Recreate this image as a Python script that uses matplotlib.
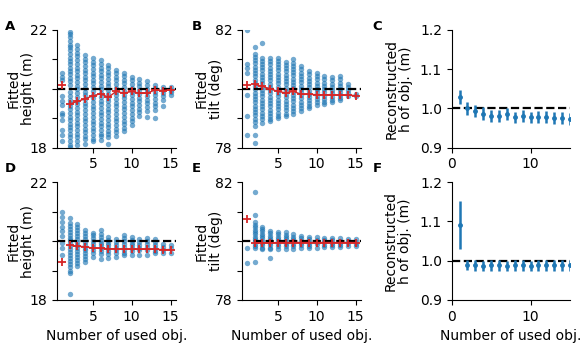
import matplotlib
matplotlib.use("Agg")
import matplotlib.pyplot as plt

plt.rcParams['font.family'] = ['DejaVu Sans']
plt.rcParams['font.size'] = 10

n_used = list(range(1, 16))

# ---------- Panel A: fitted height (scatter columns per number of used objects)
A_cols = [
    [20.53, 20.40, 20.28, 19.74, 19.57, 19.46, 19.18, 19.12, 18.95, 18.61, 18.44, 18.21],
    [21.94, 21.85, 21.75, 21.62, 21.50, 21.40, 21.30, 21.18, 21.05, 20.95, 20.85, 20.72, 20.60, 20.50,
     20.38, 20.25, 20.12, 19.88, 19.75, 19.62, 19.50, 19.40, 19.30, 19.18, 19.05, 18.95, 18.82, 18.70,
     18.60, 18.48, 18.35, 18.22, 18.10, 18.02],
    [21.47, 21.35, 21.22, 21.10, 20.98, 20.85, 20.72, 20.60, 20.48, 20.35, 20.22, 20.10, 19.98, 19.85,
     19.72, 19.60, 19.48, 19.35, 19.22, 19.10, 18.98, 18.85, 18.72, 18.60, 18.48, 18.35, 18.22, 18.08],
    [21.15, 21.02, 20.90, 20.78, 20.65, 20.52, 20.40, 20.28, 20.15, 20.02, 19.90, 19.78, 19.65, 19.52,
     19.40, 19.28, 19.15, 19.02, 18.90, 18.78, 18.65, 18.52, 18.40, 18.28, 18.14],
    [21.04, 20.92, 20.80, 20.68, 20.55, 20.42, 20.30, 20.18, 20.05, 19.92, 19.80, 19.68, 19.55, 19.42,
     19.30, 19.18, 19.05, 18.92, 18.80, 18.68, 18.55, 18.42, 18.30, 18.21],
    [20.98, 20.85, 20.72, 20.60, 20.48, 20.35, 20.22, 20.10, 19.98, 19.85, 19.72, 19.60, 19.48, 19.35,
     19.22, 19.10, 18.98, 18.85, 18.72, 18.60, 18.48, 18.38, 18.27],
    [20.81, 20.70, 20.58, 20.45, 20.32, 20.20, 20.08, 19.95, 19.82, 19.70, 19.58, 19.45, 19.32, 19.20,
     19.08, 18.95, 18.82, 18.70, 18.58, 18.45, 18.35, 18.12],
    [20.64, 20.52, 20.40, 20.28, 20.15, 20.02, 19.90, 19.78, 19.65, 19.52, 19.40, 19.28, 19.15, 19.02,
     18.90, 18.78, 18.65, 18.52, 18.38],
    [20.55, 20.43, 20.30, 20.18, 20.05, 19.92, 19.80, 19.68, 19.55, 19.42, 19.30, 19.18, 19.05, 18.92,
     18.80, 18.68, 18.55],
    [20.40, 20.28, 20.15, 20.02, 19.90, 19.78, 19.65, 19.52, 19.40, 19.28, 19.15, 19.02, 18.90, 18.78],
    [20.33, 20.20, 20.08, 19.95, 19.82, 19.70, 19.58, 19.45, 19.32, 19.20, 19.06],
    [20.25, 20.12, 20.00, 19.88, 19.75, 19.62, 19.50, 19.38, 19.25, 19.04],
    [20.14, 20.02, 19.90, 19.78, 19.65, 19.52, 19.40, 19.28, 19.00],
    [20.06, 19.95, 19.85, 19.75, 19.62, 19.42],
    [20.06, 19.96, 19.88, 19.80],
]
A_red = [20.14, 19.48, 19.57, 19.66, 19.76, 19.83, 19.71, 19.91, 19.85, 19.91, 19.85, 19.85, 19.96, 19.94, 19.97]

# ---------- Panel B: fitted tilt
B_cols = [
    [81.99, 80.83, 80.70, 80.54, 79.78, 79.09, 78.43],
    [81.42, 81.19, 81.08, 80.97, 80.86, 80.75, 80.64, 80.53, 80.42, 80.31, 80.20, 80.09, 79.98, 79.87,
     79.76, 79.65, 79.54, 79.43, 79.32, 79.21, 79.10, 78.99, 78.88, 78.72, 78.43, 78.15],
    [81.55, 81.06, 80.95, 80.84, 80.73, 80.62, 80.51, 80.40, 80.29, 80.18, 80.07, 79.96, 79.85, 79.74,
     79.63, 79.52, 79.41, 79.30, 79.19, 79.08, 78.97, 78.83],
    [81.05, 80.94, 80.83, 80.72, 80.61, 80.50, 80.39, 80.28, 80.17, 80.06, 79.95, 79.84, 79.73, 79.62,
     79.51, 79.40, 79.29, 79.18, 79.07, 78.96, 78.89],
    [81.06, 80.95, 80.84, 80.73, 80.62, 80.51, 80.40, 80.29, 80.18, 80.07, 79.96, 79.85, 79.74, 79.63,
     79.52, 79.41, 79.30, 79.19, 79.08, 79.00],
    [80.92, 80.81, 80.70, 80.59, 80.48, 80.37, 80.26, 80.15, 80.04, 79.93, 79.82, 79.71, 79.60, 79.49,
     79.38, 79.27, 79.16, 79.06],
    [81.00, 80.89, 80.78, 80.67, 80.56, 80.45, 80.34, 80.23, 80.12, 80.01, 79.90, 79.79, 79.68, 79.57,
     79.46, 79.35, 79.24, 79.14],
    [80.77, 80.66, 80.55, 80.44, 80.33, 80.22, 80.11, 80.00, 79.89, 79.78, 79.67, 79.56, 79.45, 79.35, 79.25],
    [80.60, 80.49, 80.38, 80.27, 80.16, 80.05, 79.94, 79.83, 79.72, 79.61, 79.50, 79.42, 79.35],
    [80.54, 80.43, 80.32, 80.21, 80.10, 79.99, 79.88, 79.77, 79.66, 79.56, 79.46],
    [80.43, 80.32, 80.21, 80.10, 79.99, 79.88, 79.77, 79.66, 79.56, 79.48],
    [80.39, 80.28, 80.17, 80.06, 79.95, 79.84, 79.73, 79.63, 79.55],
    [80.43, 80.32, 80.21, 80.10, 79.99, 79.88, 79.78, 79.70, 79.63],
    [80.17, 80.06, 79.95, 79.84, 79.74],
    [79.82, 79.74],
]
B_red = [80.13, 80.15, 80.08, 80.00, 79.91, 79.86, 79.91, 79.81, 79.81, 79.80, 79.80, 79.79, 79.78, 79.78, 79.77]

# ---------- Panel C: reconstructed object height
C_mean = [1.029, 1.000, 0.993, 0.987, 0.981, 0.981, 0.985, 0.977, 0.981, 0.977, 0.978, 0.978, 0.975, 0.975, 0.973]
C_err = [0.017, 0.017, 0.016, 0.016, 0.015, 0.015, 0.015, 0.015, 0.015, 0.015, 0.015, 0.015, 0.015, 0.015, 0.015]

# ---------- Panel D: fitted height
D_cols = [
    [20.99, 20.80, 20.63, 20.49, 20.34, 20.17, 19.95, 19.77, 19.54],
    [20.78, 20.62, 20.52, 20.42, 20.32, 20.22, 20.12, 20.02, 19.92, 19.82, 19.72, 19.62, 19.52, 19.42,
     19.32, 19.22, 19.12, 19.00, 18.90, 18.20],
    [20.57, 20.47, 20.37, 20.27, 20.17, 20.07, 19.97, 19.87, 19.77, 19.67, 19.57, 19.47, 19.37, 19.27, 19.14],
    [20.38, 20.28, 20.18, 20.08, 19.98, 19.88, 19.78, 19.68, 19.58, 19.48, 19.38, 19.28],
    [20.29, 20.19, 20.09, 19.99, 19.89, 19.79, 19.69, 19.59, 19.47],
    [20.38, 20.25, 20.15, 20.05, 19.95, 19.85, 19.75, 19.65, 19.55, 19.40],
    [20.15, 20.05, 19.95, 19.85, 19.75, 19.65, 19.55, 19.43],
    [20.08, 19.98, 19.88, 19.78, 19.68, 19.58, 19.47],
    [20.21, 20.11, 20.01, 19.91, 19.81, 19.71, 19.61, 19.51],
    [20.15, 20.05, 19.95, 19.85, 19.75, 19.65, 19.51],
    [20.08, 19.98, 19.88, 19.78, 19.68, 19.54],
    [20.10, 20.00, 19.90, 19.80, 19.70, 19.54],
    [20.06, 19.96, 19.86, 19.76, 19.66, 19.58],
    [19.89, 19.79, 19.69, 19.58],
    [19.85, 19.75, 19.60],
]
D_red = [19.29, 19.86, 19.82, 19.81, 19.76, 19.75, 19.74, 19.73, 19.73, 19.72, 19.72, 19.72, 19.72, 19.71, 19.71]

# ---------- Panel E: fitted tilt
E_cols = [
    [79.77, 79.26],
    [81.68, 80.89, 80.63, 80.55, 80.47, 80.39, 80.31, 80.23, 80.15, 80.07, 79.99, 79.91, 79.83, 79.75, 79.30],
    [80.49, 80.41, 80.33, 80.25, 80.17, 80.09, 80.01, 79.93, 79.85, 79.77, 79.72],
    [80.34, 80.26, 80.18, 80.10, 80.02, 79.94, 79.86, 79.78, 79.72, 79.41],
    [80.31, 80.23, 80.15, 80.07, 79.99, 79.91, 79.83, 79.74],
    [80.30, 80.22, 80.14, 80.06, 79.98, 79.90, 79.82, 79.74],
    [80.23, 80.15, 80.07, 79.99, 79.91, 79.83, 79.74],
    [80.17, 80.09, 80.01, 79.93, 79.85, 79.76],
    [80.14, 80.06, 79.98, 79.90, 79.82, 79.78],
    [80.13, 80.05, 79.97, 79.89, 79.78],
    [80.12, 80.04, 79.96, 79.88, 79.79],
    [80.10, 80.02, 79.94, 79.86, 79.80],
    [80.09, 80.01, 79.93, 79.85, 79.81],
    [80.08, 80.00, 79.92, 79.82],
    [80.06, 79.98, 79.90, 79.83],
]
E_red = [80.74, 79.94, 79.94, 79.94, 79.95, 79.95, 79.95, 79.95, 79.95, 79.95, 79.95, 79.95, 79.95, 79.95, 79.95]

# ---------- Panel F: reconstructed object height
F_mean = [1.091, 0.989, 0.988, 0.987, 0.988, 0.988, 0.987, 0.988, 0.988, 0.987, 0.988, 0.988, 0.988, 0.988, 0.988]
F_err = [0.060, 0.013, 0.013, 0.013, 0.013, 0.013, 0.013, 0.013, 0.013, 0.013, 0.013, 0.013, 0.013, 0.013, 0.013]

BLUE = '#1f77b4'
RED = '#d62728'

fig = plt.figure(figsize=(5.87, 3.55), dpi=100)

W, H = 0.2015, 0.332
lefts = [0.0976, 0.4128, 0.7695]
bottoms = [0.584, 0.155]


def style(ax):
    ax.spines['top'].set_visible(False)
    ax.spines['right'].set_visible(False)


def scatter_panel(ax, cols, red, ylo, yhi, ylabel, mid, lab_x):
    for x, col in zip(n_used, cols):
        ax.scatter([x] * len(col), col, s=15, color=BLUE, alpha=0.62, linewidths=0, zorder=2)
    ax.axhline(mid, color='black', ls='--', lw=1.6, zorder=3)
    ax.plot(n_used[1:], red[1:], color=RED, lw=1.0, zorder=4)
    ax.plot(n_used, red, color=RED, lw=0, marker='+', ms=5.5, mew=1.3, zorder=5)
    ax.set_ylim(ylo, yhi)
    ax.set_xlim(0.42, 15.65)
    ax.set_yticks([ylo, ylo + 1, ylo + 2, ylo + 3, yhi])
    ax.set_yticklabels([str(ylo), '', '', '', str(yhi)])
    ax.set_xticks([5, 10, 15])
    ax.set_ylabel(ylabel, linespacing=1.05)
    ax.yaxis.set_label_coords(lab_x, 0.5)
    style(ax)


def err_panel(ax, mean, err, lab_x):
    ax.axhline(1.0, color='black', ls='--', lw=1.6, zorder=1)
    ax.errorbar(n_used, mean, yerr=err, fmt='o', ms=2.5, color=BLUE, elinewidth=1.8, capsize=0, zorder=2)
    ax.set_xlim(0, 15)
    ax.set_ylim(0.9, 1.2)
    ax.set_yticks([0.9, 1.0, 1.1, 1.2])
    ax.set_xticks([0, 10])
    ax.set_ylabel('Reconstructed\nh of obj. (m)', linespacing=1.05)
    ax.yaxis.set_label_coords(lab_x, 0.5)
    style(ax)


axA = fig.add_axes([lefts[0], bottoms[0], W, H])
axB = fig.add_axes([lefts[1], bottoms[0], W, H])
axC = fig.add_axes([lefts[2], bottoms[0], W, H])
axD = fig.add_axes([lefts[0], bottoms[1], W, H])
axE = fig.add_axes([lefts[1], bottoms[1], W, H])
axF = fig.add_axes([lefts[2], bottoms[1], W, H])

scatter_panel(axA, A_cols, A_red, 18, 22, 'Fitted\nheight (m)', 20, -0.19)
scatter_panel(axB, B_cols, B_red, 78, 82, 'Fitted\ntilt (deg)', 80, -0.16)
err_panel(axC, C_mean, C_err, -0.325)
scatter_panel(axD, D_cols, D_red, 18, 22, 'Fitted\nheight (m)', 20, -0.19)
scatter_panel(axE, E_cols, E_red, 78, 82, 'Fitted\ntilt (deg)', 80, -0.16)
err_panel(axF, F_mean, F_err, -0.335)

for ax in (axD, axE, axF):
    ax.set_xlabel('Number of used obj.')

letters = [('A', 5, 29.5), ('B', 191.5, 29.5), ('C', 372.5, 29.5),
           ('D', 5, 172.5), ('E', 191.5, 172.5), ('F', 372.5, 172.5)]
for t, px, py in letters:
    fig.text(px / 587, 1 - py / 355, t, fontsize=9.5, fontweight='bold', ha='left', va='baseline')

fig.savefig('out.png', dpi=100)
